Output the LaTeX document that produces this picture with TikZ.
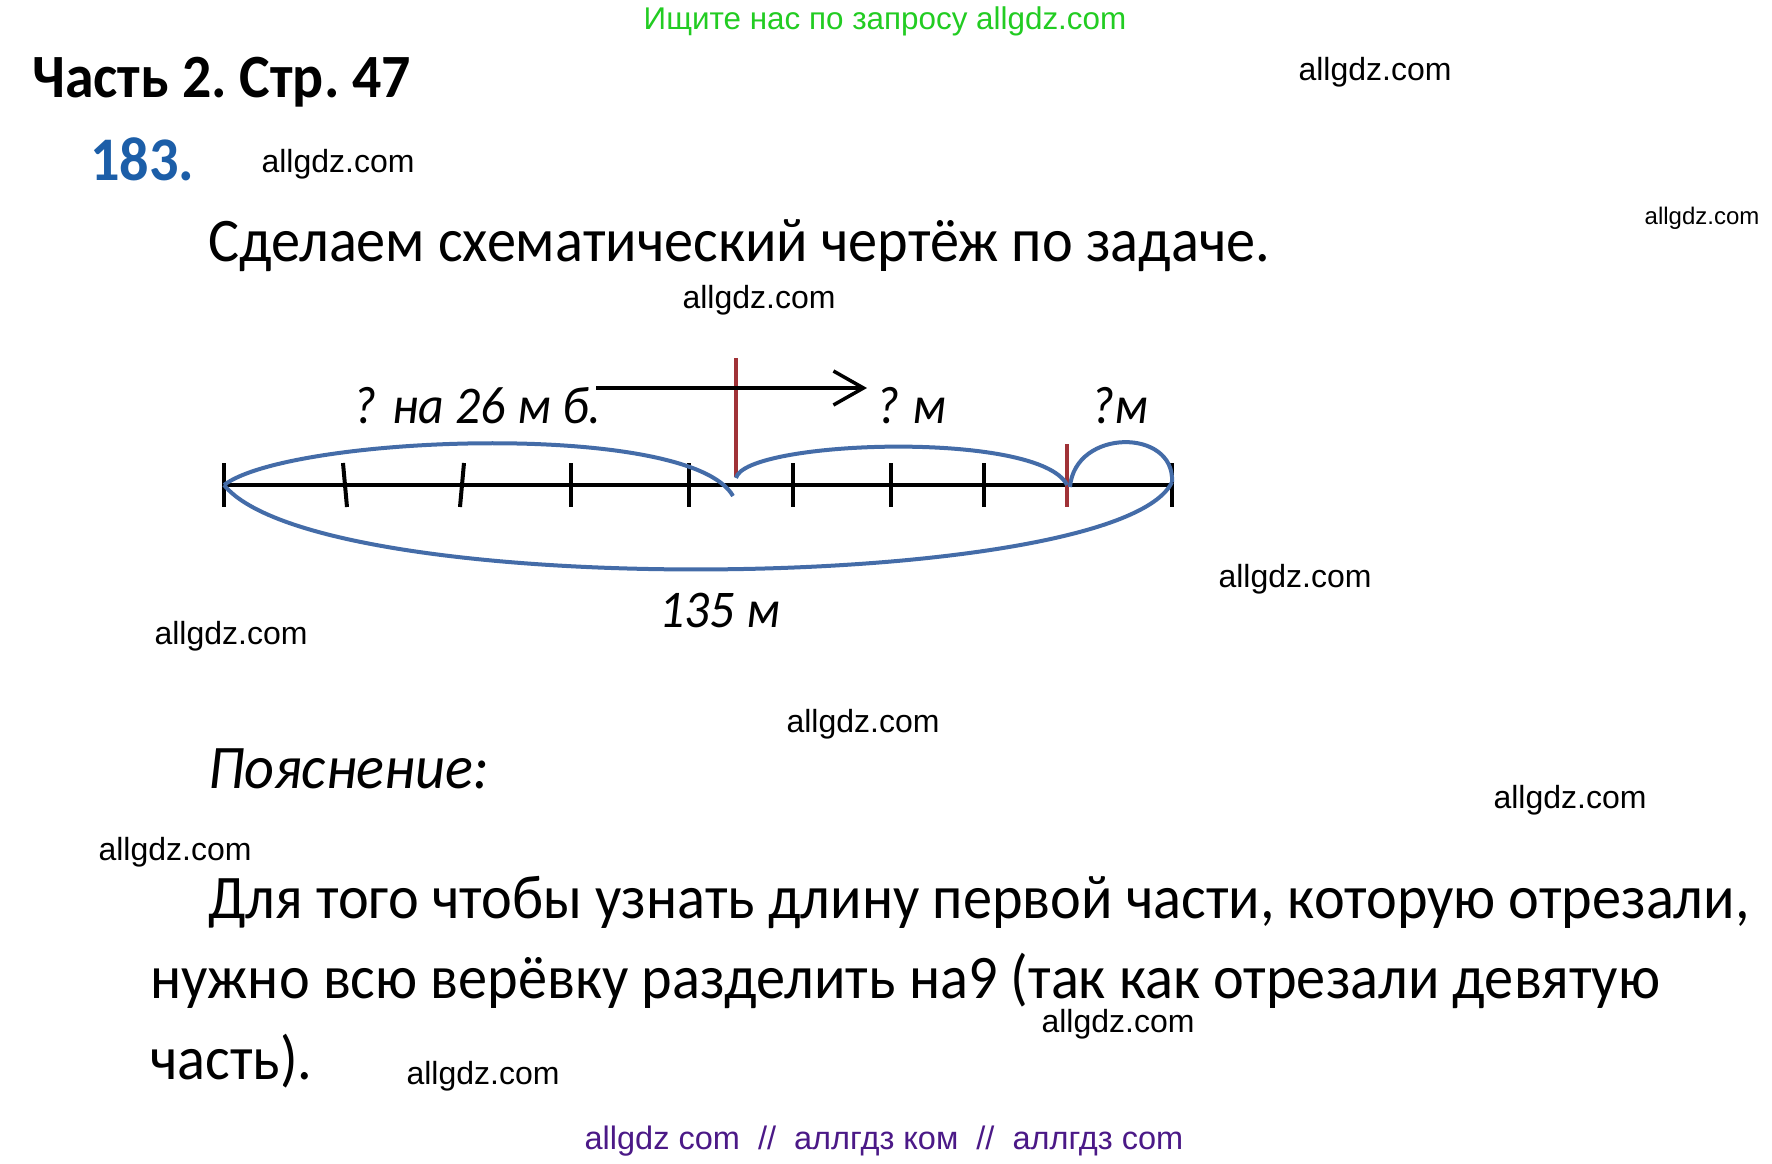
\documentclass[tikz,border=0pt]{standalone}
\usepackage{fontspec}
\setmainfont{Carlito}[FakeStretch=0.94]
\newfontfamily\wmfont{Liberation Sans}
\usetikzlibrary{arrows.meta}
\definecolor{wmgreen}{RGB}{34,204,34}
\definecolor{numblue}{RGB}{28,94,168}
\definecolor{arcblue}{RGB}{68,108,168}
\definecolor{redmk}{RGB}{160,50,55}
\definecolor{wmpurple}{RGB}{75,25,135}
\frenchspacing
\tikzset{
  wmark/.style={inner sep=0pt, font=\wmfont\fontsize{32}{38}\selectfont},
  bigtext/.style={anchor=base west, inner sep=0pt, font=\fontsize{62}{74}\selectfont},
  lbl/.style={anchor=base west, inner sep=0pt, font=\itshape\fontsize{53}{62}\selectfont},
  mainline/.style={line width=4pt},
  tickline/.style={line width=4pt},
  bluearc/.style={arcblue, line width=4pt},
  redline/.style={redmk, line width=4pt},
}
\begin{document}
\begin{tikzpicture}[x=1pt,y=-1pt]
\useasboundingbox (0,0) rectangle (1772,1163);
\fill[white] (0,0) rectangle (1772,1163);
% header
\node[inner sep=0pt, text=wmgreen, font=\wmfont\fontsize{31.4}{36}\selectfont] (green) at (885,21) {Ищите нас по запросу allgdz.com};
\node[anchor=base west, inner sep=0pt, font=\bfseries\fontsize{61.5}{74}\selectfont] (part) at (32,97) {Часть 2. Стр. 47};
\node[anchor=base west, inner sep=0pt, text=numblue, font=\bfseries\fontsize{62}{74}\selectfont] (num) at (90,180) {183.};
\node[bigtext] (intro) at (208,261) {Сделаем схематический чертёж по задаче.};
% watermarks
\node[wmark] (w1) at (1375,72) {allgdz.com};
\node[wmark] (w2) at (338,164) {allgdz.com};
\node[inner sep=0pt, font=\wmfont\fontsize{24}{28}\selectfont] (w3) at (1702,218) {allgdz.com};
\node[wmark] (w4) at (759,300) {allgdz.com};
\node[wmark] (w5) at (1295,579) {allgdz.com};
\node[wmark] (w6) at (231,636) {allgdz.com};
\node[wmark] (w7) at (863,724) {allgdz.com};
\node[wmark] (w8) at (1570,800) {allgdz.com};
\node[wmark] (w9) at (175,852) {allgdz.com};
\node[wmark] (w10) at (1118,1024) {allgdz.com};
\node[wmark] (w11) at (483,1076) {allgdz.com};
\node[inner sep=0pt, text=wmpurple, font=\wmfont\fontsize{32.5}{38}\selectfont] (bottom) at (884,1141) {allgdz com \ // \ аллгдз ком \ // \ аллгдз com};
% diagram
\coordinate (L) at (224,485);
\coordinate (R) at (1172,485);
\draw[mainline] (L) -- (R);
\foreach \n/\x/\d in {a/224/0, b/345/4, c/462/-4, d/571/0, e/689/0, f/793/0, g/891/0, h/984/0, i/1172/0}{
  \coordinate (t\n) at (\x,485);
  \draw[tickline] (t\n) ++(-\d/2,-22) -- ++(\d,44);
}
\coordinate (r1a) at (736,358); \coordinate (r1b) at (736,477);
\coordinate (r2a) at (1067,444); \coordinate (r2b) at (1067,507);
\draw[redline] (r1a) -- (r1b);
\draw[redline] (r2a) -- (r2b);
\coordinate (p1) at (733,496);
\coordinate (p2) at (736,478);
\coordinate (p3) at (1067,485);
\coordinate (p4) at (1070,487);
\coordinate (p5) at (1172,482);
\draw[bluearc] (L) .. controls (290,435) and (690,420) .. (p1);
\draw[bluearc] (p2) .. controls (745,440) and (1040,430) .. (p3);
\draw[bluearc] (p4) .. controls (1075,428) and (1175,428) .. (p5);
\draw[bluearc] (L) .. controls (320,603) and (1120,593) .. (p5);
\coordinate (aS) at (596,388);
\coordinate (aE) at (867,388);
\draw[line width=3.5pt, -{Straight Barb[length=30pt,width=34pt,line width=3.5pt]}] (aS) -- (aE);
\node[lbl] (q1) at (353,423) {?\kern0.3em на 26 м б.};
\node[lbl] (q2) at (876,423) {?\kern0.25em м};
\node[lbl] (q3) at (1091,423) {?м};
\node[lbl] (tot) at (659,627) {135 м};
% explanation
\node[anchor=base west, inner sep=0pt, font=\itshape\fontsize{62}{74}\selectfont] (expl) at (208,788) {Пояснение:};
\node[bigtext] (l1) at (208,918) {Для того чтобы узнать длину первой части, которую отрезали,};
\node[bigtext] (l2) at (150,998) {нужно всю верёвку разделить на9 (так как отрезали девятую};
\node[bigtext] (l3) at (150,1079) {часть).};
\end{tikzpicture}
\end{document}
